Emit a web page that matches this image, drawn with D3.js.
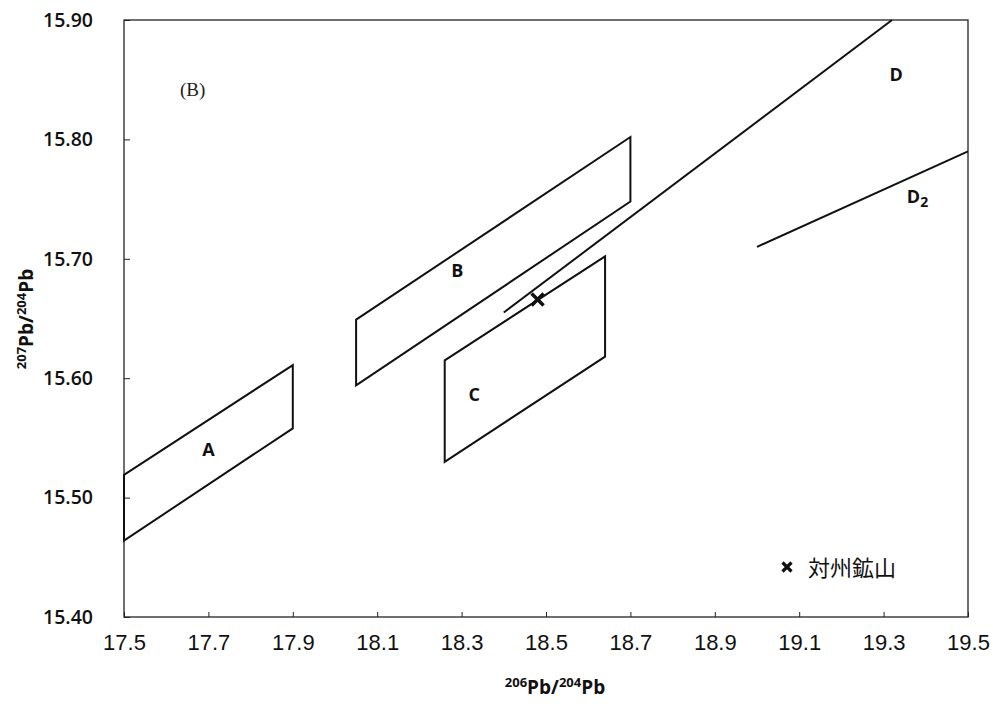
<!DOCTYPE html>
<html><head><meta charset="utf-8">
<script src="https://cdn.jsdelivr.net/npm/d3@7"></script>
<style>body{margin:0;background:#fff}svg{display:block}</style>
</head><body>
<script>
const xTicks = [17.5,17.7,17.9,18.1,18.3,18.5,18.7,18.9,19.1,19.3,19.5];
const yTicks = [15.40,15.50,15.60,15.70,15.80,15.90];
const fieldA = [[17.5,15.519],[17.9,15.611],[17.9,15.558],[17.5,15.464]];
const fieldB = [[18.05,15.649],[18.70,15.802],[18.70,15.748],[18.05,15.594]];
const fieldC = [[18.26,15.615],[18.64,15.702],[18.64,15.618],[18.26,15.530]];
const lineD  = [[18.40,15.655],[19.32,15.90]];
const lineD2 = [[19.0,15.71],[19.5,15.79]];
const mine   = [[18.48,15.666]];
const regionLabels = [
  {t:"A", x:17.70, y:15.54},
  {t:"B", x:18.29, y:15.69},
  {t:"C", x:18.33, y:15.586},
  {t:"D", x:19.33, y:15.854}
];
const legendLabel = "対州鉱山";

const W=993,H=706;
const svg=d3.select("body").append("svg").attr("width",W).attr("height",H);
const x=d3.scaleLinear().domain([17.5,19.5]).range([124,968]);
const y=d3.scaleLinear().domain([15.40,15.90]).range([617,20]);

// frame
svg.append("rect").attr("x",x(17.5)).attr("y",y(15.90))
  .attr("width",x(19.5)-x(17.5)).attr("height",y(15.40)-y(15.90))
  .attr("fill","none").attr("stroke","#222").attr("stroke-width",1.3);

// axes
const xa=svg.append("g").attr("transform",`translate(0,${y(15.40)})`)
  .call(d3.axisBottom(x).tickValues(xTicks).tickSizeInner(-5).tickSizeOuter(0).tickPadding(17).tickFormat(d3.format(".1f")));
xa.select(".domain").remove();
xa.selectAll("line").attr("stroke","#222");
xa.selectAll("text").attr("font-family","Liberation Sans, Arial, sans-serif").attr("font-size",22).attr("fill","#111");

const ya=svg.append("g").attr("transform",`translate(${x(17.5)},0)`)
  .call(d3.axisLeft(y).tickValues(yTicks).tickSizeInner(-6).tickSizeOuter(0).tickPadding(31).tickFormat(d3.format(".2f")));
ya.select(".domain").remove();
ya.selectAll("line").attr("stroke","#222");
ya.selectAll("text").attr("font-family","Open Sans, sans-serif").attr("font-weight",600).attr("font-size",19.5).attr("fill","#111");

// axis titles
const xt=svg.append("text").attr("x",555).attr("y",694).attr("text-anchor","middle")
  .attr("font-family","Open Sans, sans-serif").attr("font-weight",700).attr("font-size",19).attr("fill","#111");
xt.append("tspan").attr("font-size",13).attr("dy",-7).text("206");
xt.append("tspan").attr("dy",7).text("Pb/");
xt.append("tspan").attr("font-size",13).attr("dy",-7).text("204");
xt.append("tspan").attr("dy",7).text("Pb");

const yt=svg.append("text").attr("transform","translate(33,319) rotate(-90)").attr("text-anchor","middle")
  .attr("font-family","Open Sans, sans-serif").attr("font-weight",700).attr("font-size",19).attr("fill","#111");
yt.append("tspan").attr("font-size",13).attr("dy",-7).text("207");
yt.append("tspan").attr("dy",7).text("Pb/");
yt.append("tspan").attr("font-size",13).attr("dy",-7).text("204");
yt.append("tspan").attr("dy",7).text("Pb");

// fields
const line=d3.line().x(d=>x(d[0])).y(d=>y(d[1]));
[fieldA,fieldB,fieldC].forEach(f=>{
  svg.append("path").attr("d",line(f)+"Z").attr("fill","none").attr("stroke","#111").attr("stroke-width",2);
});
[lineD,lineD2].forEach(l=>{
  svg.append("path").attr("d",line(l)).attr("fill","none").attr("stroke","#111").attr("stroke-width",2);
});

// labels
regionLabels.forEach(l=>{
  svg.append("text").attr("x",x(l.x)).attr("y",y(l.y)).attr("dy","0.35em").attr("text-anchor","middle")
    .attr("font-family","Open Sans, sans-serif").attr("font-weight",700).attr("font-size",18).attr("fill","#111").text(l.t);
});
const d2=svg.append("text").attr("x",x(19.355)).attr("y",y(15.752)).attr("dy","0.35em")
  .attr("font-family","Open Sans, sans-serif").attr("font-weight",700).attr("font-size",18).attr("fill","#111");
d2.append("tspan").text("D");
d2.append("tspan").attr("font-size",14).attr("dy",4).text("2");

svg.append("text").attr("x",180).attr("y",96).attr("font-family","Liberation Serif, serif").attr("font-size",19).attr("fill","#222").text("(B)");

// marker
function cross(g,cx,cy,s,w){
  g.append("path").attr("d",`M${cx-s},${cy-s}L${cx+s},${cy+s}M${cx-s},${cy+s}L${cx+s},${cy-s}`)
   .attr("stroke","#111").attr("stroke-width",w).attr("fill","none");
}
mine.forEach(d=>cross(svg,x(d[0]),y(d[1]),6,3.5));

// legend
cross(svg,787,567,4.5,3.2);
svg.append("text").attr("x",808).attr("y",576).attr("font-family","Noto Sans CJK JP, sans-serif").attr("font-size",22).attr("fill","#111").text(legendLabel);
</script>
</body></html>
